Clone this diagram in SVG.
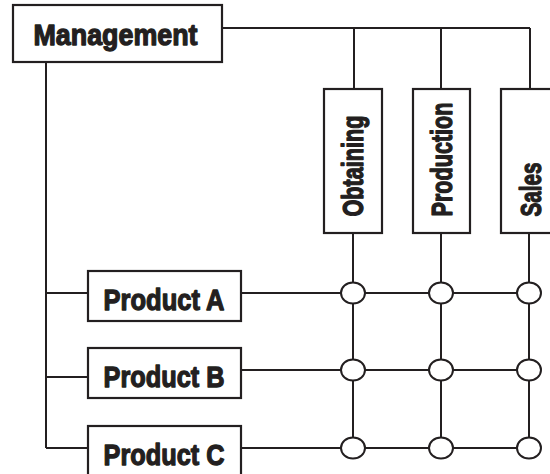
<svg xmlns="http://www.w3.org/2000/svg" width="550" height="474" viewBox="0 0 550 474">
<style>
.box{fill:#fff;stroke:#231f20;stroke-width:2.2}
.ln{fill:none;stroke:#231f20;stroke-width:2}
.nd{fill:#fff;stroke:#231f20;stroke-width:2}
.t{font-family:"Liberation Sans",Arial,sans-serif;font-weight:bold;font-size:30px;fill:#231f20;stroke:#231f20;stroke-width:1.3;stroke-linejoin:round}
</style>
<rect width="550" height="474" fill="#fff"/>
<g id="connectors">
<path class="ln" d="M222,28 H530 M354,28 V89 M441,28 V89 M530,28 V89"/>
<path class="ln" d="M46,62 V448 M46,293 H88 M46,377 H88 M46,448 H88"/>
<path class="ln" d="M241,293 H529 M241,370 H529 M241,448 H529"/>
<path class="ln" d="M353,233 V448 M441,233 V448 M529,233 V448"/>
</g>
<g id="management"><rect class="box" x="13" y="5" width="209" height="57"/><text class="t" x="33.5" y="45" textLength="164" lengthAdjust="spacingAndGlyphs">Management</text></g>
<g id="obtaining"><rect class="box" x="324" y="89" width="58" height="144"/><text class="t" transform="translate(363,216.5) rotate(-90)" textLength="101" lengthAdjust="spacingAndGlyphs">Obtaining</text></g>
<g id="production"><rect class="box" x="413" y="89" width="57" height="144"/><text class="t" transform="translate(452,216.5) rotate(-90)" textLength="114" lengthAdjust="spacingAndGlyphs">Production</text></g>
<g id="sales"><rect class="box" x="501" y="89" width="58" height="144"/><text class="t" transform="translate(541,216.5) rotate(-90)" textLength="54" lengthAdjust="spacingAndGlyphs">Sales</text></g>
<g id="productA"><rect class="box" x="88" y="271" width="153" height="50"/><text class="t" x="103.5" y="310" textLength="121" lengthAdjust="spacingAndGlyphs">Product A</text></g>
<g id="productB"><rect class="box" x="88" y="348" width="153" height="50"/><text class="t" x="103.5" y="387" textLength="121" lengthAdjust="spacingAndGlyphs">Product B</text></g>
<g id="productC"><rect class="box" x="88" y="426" width="153" height="50"/><text class="t" x="103.5" y="465" textLength="121" lengthAdjust="spacingAndGlyphs">Product C</text></g>
<g id="nodes">
<ellipse class="nd" cx="353" cy="293" rx="12" ry="10.5"/><ellipse class="nd" cx="441" cy="293" rx="12" ry="10.5"/><ellipse class="nd" cx="529" cy="293" rx="12" ry="10.5"/>
<ellipse class="nd" cx="353" cy="370" rx="12" ry="10.5"/><ellipse class="nd" cx="441" cy="370" rx="12" ry="10.5"/><ellipse class="nd" cx="529" cy="370" rx="12" ry="10.5"/>
<ellipse class="nd" cx="353" cy="448" rx="12" ry="10.5"/><ellipse class="nd" cx="441" cy="448" rx="12" ry="10.5"/><ellipse class="nd" cx="529" cy="448" rx="12" ry="10.5"/>
</g>
</svg>
